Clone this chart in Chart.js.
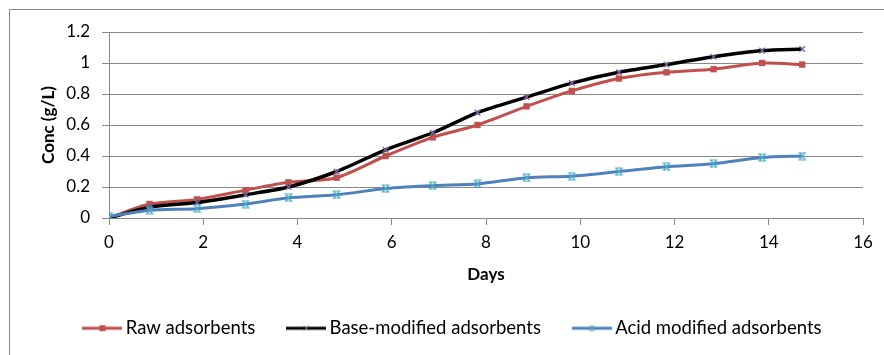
<!DOCTYPE html>
<html>
<head>
<meta charset="utf-8">
<script src="https://cdn.jsdelivr.net/npm/chart.js@4"></script>
<style>
  html, body { margin: 0; padding: 0; background: #fff; }
  #grafico { display: block; }
</style>
</head>
<body>
<canvas id="grafico" width="884" height="355"></canvas>
<script>
const days = [0, 0.86, 1.87, 2.9, 3.81, 4.83, 5.87, 6.87, 7.82, 8.86, 9.82, 10.82, 11.83, 12.83, 13.86, 14.71];
const rawVals = [0, 0.09, 0.12, 0.18, 0.23, 0.26, 0.40, 0.52, 0.60, 0.72, 0.82, 0.90, 0.94, 0.96, 1.00, 0.99];
const baseVals = [0, 0.07, 0.10, 0.15, 0.20, 0.30, 0.44, 0.55, 0.68, 0.78, 0.87, 0.94, 0.99, 1.04, 1.08, 1.09];
const acidVals = [0.01, 0.05, 0.06, 0.09, 0.13, 0.15, 0.19, 0.21, 0.22, 0.26, 0.27, 0.30, 0.33, 0.35, 0.39, 0.40];
const seriesNames = ['Raw adsorbents', 'Base-modified adsorbents', 'Acid modified adsorbents'];

const FONT = 'Lato, "Open Sans", sans-serif';
const grigio = '#8a8a8a';

function punti(vals) {
  return days.map((d, i) => ({ x: d, y: vals[i] }));
}

// marker a clessidra per la serie acida
function markerAcido() {
  const c = document.createElement('canvas');
  c.width = 11; c.height = 9;
  const g = c.getContext('2d');
  g.strokeStyle = '#4BACC6';
  g.lineWidth = 1.2;
  g.beginPath();
  g.moveTo(1.5, 1); g.lineTo(9.5, 1);
  g.moveTo(1.5, 8); g.lineTo(9.5, 8);
  g.moveTo(2.5, 1); g.lineTo(8.5, 8);
  g.moveTo(8.5, 1); g.lineTo(2.5, 8);
  g.stroke();
  return c;
}
const acidMarker = markerAcido();

// campione della legenda: linea con marker al centro
function campione(colore, marker) {
  const c = document.createElement('canvas');
  c.width = 40; c.height = 10;
  const g = c.getContext('2d');
  g.strokeStyle = colore;
  g.lineWidth = 3;
  g.beginPath(); g.moveTo(0, 5); g.lineTo(40, 5); g.stroke();
  marker(g);
  return c;
}
const legendStyles = [
  campione('#C0504D', g => { g.fillStyle = '#C0504D'; g.fillRect(17, 2, 6, 6); }),
  campione('#000000', g => {
    g.strokeStyle = '#8064A2'; g.lineWidth = 1;
    g.beginPath(); g.moveTo(17.5, 2.5); g.lineTo(22.5, 7.5); g.moveTo(22.5, 2.5); g.lineTo(17.5, 7.5); g.stroke();
  }),
  campione('#4F81BD', g => {
    g.strokeStyle = '#4BACC6'; g.lineWidth = 1;
    g.beginPath(); g.moveTo(17.5, 2); g.lineTo(22.5, 8); g.moveTo(22.5, 2); g.lineTo(17.5, 8); g.moveTo(20, 1.5); g.lineTo(20, 8.5); g.stroke();
  })
];

const bordo = {
  id: 'bordo',
  beforeDraw(chart) {
    const c = chart.ctx;
    c.save();
    c.fillStyle = '#fff';
    c.fillRect(0, 0, chart.width, chart.height);
    c.strokeStyle = grigio;
    c.lineWidth = 1;
    c.strokeRect(9.5, 9.5, chart.width, chart.height);
    c.restore();
  }
};

const ctx = document.getElementById('grafico').getContext('2d');
const grafico = new Chart(ctx, {
  type: 'line',
  data: {
    datasets: [
      {
        label: seriesNames[0],
        data: punti(rawVals),
        borderColor: '#C0504D',
        backgroundColor: '#C0504D',
        borderWidth: 3,
        pointStyle: 'rect',
        pointRadius: 4.5,
        pointBorderWidth: 0,
        tension: 0.25,
        order: 3
      },
      {
        label: seriesNames[1],
        data: punti(baseVals),
        borderColor: '#000000',
        backgroundColor: '#8064A2',
        pointBorderColor: '#8064A2',
        borderWidth: 3.5,
        pointStyle: 'crossRot',
        pointRadius: 4,
        pointBorderWidth: 1.3,
        tension: 0.25,
        order: 2
      },
      {
        label: seriesNames[2],
        data: punti(acidVals),
        borderColor: '#4F81BD',
        backgroundColor: '#4BACC6',
        borderWidth: 3,
        pointStyle: acidMarker,
        tension: 0.25,
        order: 1
      }
    ]
  },
  options: {
    responsive: false,
    animation: false,
    devicePixelRatio: 1,
    layout: { padding: { left: 47, right: 21, top: 32, bottom: 7.5 } },
    plugins: {
      tooltip: { enabled: false },
      legend: {
        position: 'bottom',
        labels: {
          font: { family: FONT, size: 18.5 },
          color: '#000',
          usePointStyle: true,
          pointStyleWidth: 28,
          padding: 37,
          generateLabels: () => seriesNames.map((n, i) => ({
            text: n,
            pointStyle: legendStyles[i],
            datasetIndex: i,
            hidden: false,
            lineWidth: 0,
            fontColor: '#000'
          }))
        }
      }
    },
    scales: {
      x: {
        type: 'linear',
        min: 0,
        max: 16,
        ticks: { stepSize: 2, color: '#000', font: { family: FONT, size: 17 }, padding: 7 },
        grid: { drawOnChartArea: false, drawTicks: true, tickLength: 7, color: grigio },
        border: { color: grigio },
        title: { display: true, text: 'Days', color: '#000', font: { family: FONT, size: 17, weight: 'bold' }, padding: { top: 0, bottom: -3 } },
        afterFit(scale) { scale.height = 64; }
      },
      y: {
        min: 0,
        max: 1.2,
        ticks: { stepSize: 0.2, color: '#000', font: { family: FONT, size: 17 }, padding: 12,
          callback: v => Math.round(v * 10) / 10 },
        grid: { tickLength: 7, color: grigio },
        border: { color: grigio },
        title: { display: true, text: 'Conc (g/L)', color: '#000', font: { family: FONT, size: 17, weight: 'bold' }, padding: { top: -9, bottom: 0 } },
        afterFit(scale) { scale.width = 62; }
      }
    }
  },
  plugins: [bordo]
});
</script>
</body>
</html>
